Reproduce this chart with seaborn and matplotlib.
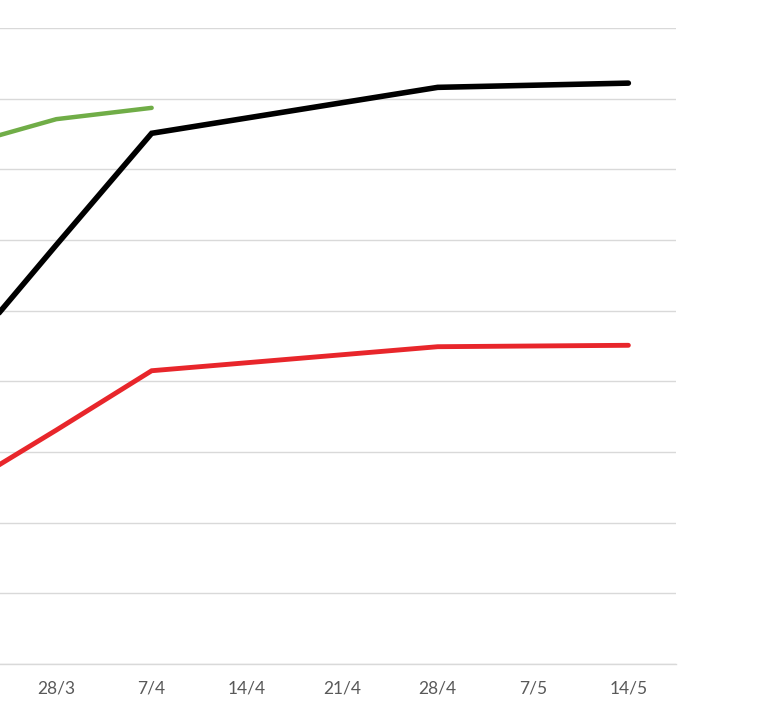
import numpy as np
import pandas as pd
import seaborn as sns
import matplotlib.pyplot as plt

# categorias do eixo x (a primeira fica fora do recorte da imagem)
categorias = ["21/3", "28/3", "7/4", "14/4", "21/4", "28/4", "7/5", "14/5"]

# valores (escala das linhas de grade: 0 a 9)
serie_preta = [4.33, 5.93, 7.51, np.nan, np.nan, 8.16, np.nan, 8.22]
serie_vermelha = [2.49, 3.31, 4.15, np.nan, np.nan, 4.49, np.nan, 4.51]
serie_verde = [7.33, 7.71, 7.87, np.nan, np.nan, np.nan, np.nan, np.nan]

cores = {"preta": "#000000", "vermelha": "#e8262b", "verde": "#70ad47"}
larguras = {"preta": 4.0, "vermelha": 3.5, "verde": 3.2}

df = pd.DataFrame({
    "pos": list(range(len(categorias))) * 3,
    "valor": serie_preta + serie_vermelha + serie_verde,
    "serie": ["preta"] * 8 + ["vermelha"] * 8 + ["verde"] * 8,
}).dropna()

sns.set_theme(style="white")
plt.rcParams["font.family"] = ["Lato", "DejaVu Sans"]

fig = plt.figure(figsize=(7.72, 7.09), dpi=100)
# eixo deslocado para a esquerda: a imagem original está recortada
ax = fig.add_axes([-0.1123, 45 / 709, 0.988, 636 / 709])

for nome in ["verde", "vermelha", "preta"]:
    sub = df[df["serie"] == nome]
    sns.lineplot(data=sub, x="pos", y="valor", color=cores[nome],
                 linewidth=larguras[nome], ax=ax, legend=False,
                 solid_capstyle="round", solid_joinstyle="miter")

ax.set_xlim(-0.5, 7.5)
ax.set_ylim(0, 9)
ax.set_yticks(range(0, 10))
ax.set_yticklabels([])
# só os rótulos visíveis no recorte
ax.set_xticks(range(1, len(categorias)))
ax.set_xticklabels(categorias[1:], fontsize=12.5, color="#595959")
ax.tick_params(axis="both", length=0)
ax.tick_params(axis="x", pad=12)
ax.grid(axis="y", color="#d9d9d9", linewidth=1)
ax.set_axisbelow(True)
ax.set_xlabel("")
ax.set_ylabel("")

for lado in ["left", "right", "top"]:
    ax.spines[lado].set_visible(False)
ax.spines["bottom"].set_color("#d9d9d9")
ax.spines["bottom"].set_linewidth(1)

fig.savefig("out.png", dpi=100)
